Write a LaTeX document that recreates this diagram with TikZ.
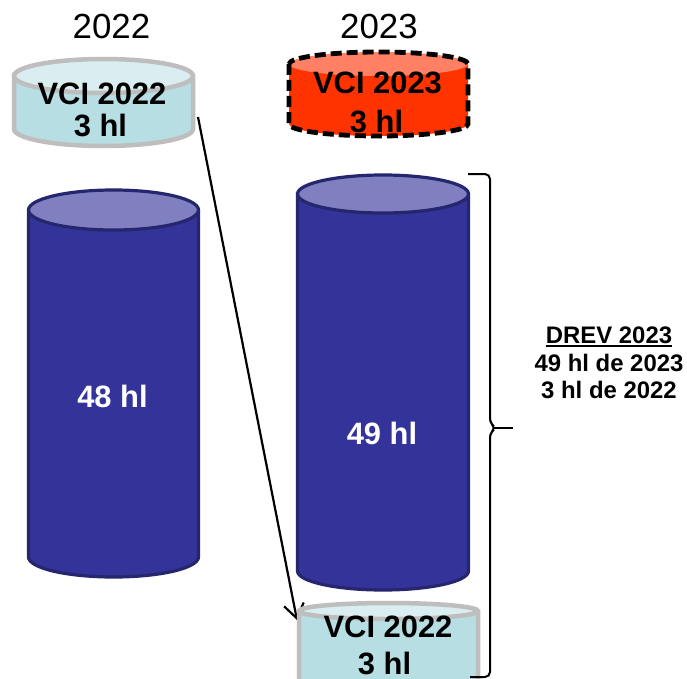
\documentclass[tikz,border=0pt]{standalone}
\usepackage{fontspec}
\setmainfont{Liberation Sans}
\usetikzlibrary{arrows.meta}
\definecolor{vcifill}{RGB}{183,222,227}
\definecolor{vcitop}{RGB}{218,238,241}
\definecolor{vcigray}{RGB}{190,190,190}
\definecolor{redfill}{RGB}{255,51,0}
\definecolor{redtop}{RGB}{255,128,100}
\definecolor{bluefill}{RGB}{51,51,153}
\definecolor{bluetop}{RGB}{128,128,192}
\definecolor{blueline}{RGB}{38,38,110}
% #1 cx, #2 top cy, #3 bottom cy, #4 rx, #5 ry, #6 body fill, #7 top fill, #8 outline style
\newcommand\mycylinder[8]{%
  \fill[#6] ({#1-#4},#2) -- ({#1-#4},#3) arc[start angle=180,end angle=0,x radius=#4,y radius=#5] -- ({#1+#4},#2) -- cycle;
  \fill[#7] (#1,#2) ellipse[x radius=#4,y radius=#5];
  \draw[#8] ({#1-#4},#2) -- ({#1-#4},#3) arc[start angle=180,end angle=0,x radius=#4,y radius=#5] -- ({#1+#4},#2) arc[start angle=0,end angle=-180,x radius=#4,y radius=#5] -- cycle;
}
\newcommand\myinnerarc[6]{%
  \draw[#6] ({#1+#3},#2) arc[start angle=0,end angle=180,x radius=#3,y radius=#4];
}
\begin{document}
\begin{tikzpicture}[x=1bp,y=-1bp,
  yearlab/.style={font=\fontsize{35}{42}\selectfont,inner sep=0pt},
  cyllab/.style={font=\bfseries\fontsize{31}{36}\selectfont,inner sep=0pt},
  vollab/.style={font=\bfseries\fontsize{31}{36}\selectfont,text=white,inner sep=0pt},
  drevlab/.style={font=\bfseries\fontsize{24}{28}\selectfont,inner sep=0pt},
  vcioutline/.style={draw=vcigray,line width=4.5bp},
  redoutline/.style={draw=black,line width=4.8bp,dash pattern=on 11bp off 5bp},
  blueoutline/.style={draw=blueline,line width=3.2bp},
  connector/.style={line width=2.2bp,-{Straight Barb[length=14bp,width=20bp]}},
  bracestyle/.style={line width=2bp,rounded corners=5bp}]
\useasboundingbox (0,0) rectangle (687,679);
\clip (0,0) rectangle (687,679);
\fill[white] (0,0) rectangle (687,679);

% year titles
\node[yearlab] (y22) at (111.5,26) {2022};
\node[yearlab] (y23) at (379,26) {2023};

% VCI 2022 (top left)
\mycylinder{103.5}{76}{129}{89.5}{17}{vcifill}{vcitop}{vcioutline}
\myinnerarc{103.5}{76}{89.5}{17}{}{vcioutline}

% VCI 2023 (top right, dashed)
\mycylinder{378.5}{64}{124}{89.5}{12}{redfill}{redtop}{redoutline}

% blue cylinders
\mycylinder{113.5}{210}{557}{85}{20}{bluefill}{bluetop}{blueoutline}
\myinnerarc{113.5}{210}{85}{20}{}{blueoutline}
\mycylinder{383}{194}{571}{85.5}{19}{bluefill}{bluetop}{blueoutline}
\myinnerarc{383}{194}{85.5}{19}{}{blueoutline}

% connector
\coordinate (arrowstart) at (198,117);
\coordinate (arrowend) at (297,620);
\draw[connector] (arrowstart) -- (arrowend);

% VCI 2022 (bottom)
\mycylinder{388.5}{611}{720}{89.5}{8}{vcifill}{vcitop}{vcioutline}
\myinnerarc{388.5}{611}{89.5}{8}{}{vcioutline}

% labels
\node[cyllab] (vciA1) at (102,94) {VCI 2022};
\node[cyllab] (vciA2) at (100.5,125) {3 hl};
\node[cyllab] (vciB1) at (377.5,83) {VCI 2023};
\node[cyllab] (vciB2) at (376.5,121) {3 hl};
\node[vollab] (vol48) at (112.5,396) {48 hl};
\node[vollab] (vol49) at (382,433.5) {49 hl};
\node[cyllab] (vciC1) at (388,627) {VCI 2022};
\node[cyllab] (vciC2) at (384.5,663) {3 hl};

% brace
\coordinate (bracetop) at (468,174);
\coordinate (braceend) at (470,677);
\coordinate (bracetip) at (513,428);
\draw[bracestyle] (bracetop) -- (490,174) -- (490,423) -- (496,428) -- (490,433) -- (490,677) -- (braceend);
\draw[line width=2bp] (494,428) -- (bracetip);

% DREV text
\node[drevlab] (drev1) at (609,335) {DREV 2023};
\draw[line width=1.8bp] ([yshift=-2.5bp]drev1.south west) -- ([yshift=-2.5bp]drev1.south east);
\node[drevlab] (drev2) at (609,363) {49 hl de 2023};
\node[drevlab] (drev3) at (609,390) {3 hl de 2022};
\end{tikzpicture}
\end{document}
